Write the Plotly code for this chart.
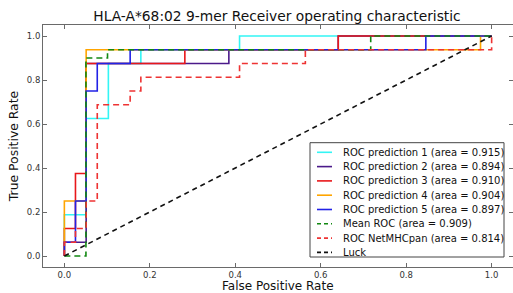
import plotly.graph_objects as go

# ---- data ----
names = [
    "ROC prediction 1 (area = 0.915)",
    "ROC prediction 2 (area = 0.894)",
    "ROC prediction 3 (area = 0.910)",
    "ROC prediction 4 (area = 0.904)",
    "ROC prediction 5 (area = 0.897)",
    "Mean ROC (area = 0.909)",
    "ROC NetMHCpan (area = 0.814)",
    "Luck",
]

fpr1 = [0, 0, 0.051, 0.051, 0.103, 0.103, 0.179, 0.179, 0.410, 0.410, 1.0]
tpr1 = [0, 0.1875, 0.1875, 0.625, 0.625, 0.875, 0.875, 0.9375, 0.9375, 1.0, 1.0]

fpr2 = [0, 0, 0.051, 0.051, 0.385, 0.385, 0.641, 0.641, 1.0]
tpr2 = [0, 0.0625, 0.0625, 0.875, 0.875, 0.9375, 0.9375, 1.0, 1.0]

fpr3 = [0, 0, 0.026, 0.026, 0.051, 0.051, 0.282, 0.282, 0.641, 0.641, 1.0]
tpr3 = [0, 0.125, 0.125, 0.375, 0.375, 0.875, 0.875, 0.9375, 0.9375, 1.0, 1.0]

fpr4 = [0, 0, 0.051, 0.051, 0.974, 0.974, 1.0]
tpr4 = [0, 0.25, 0.25, 0.9375, 0.9375, 1.0, 1.0]

fpr5 = [0, 0, 0.026, 0.026, 0.051, 0.051, 0.077, 0.077, 0.154, 0.154, 0.846, 0.846, 1.0]
tpr5 = [0, 0.0625, 0.0625, 0.25, 0.25, 0.75, 0.75, 0.875, 0.875, 0.9375, 0.9375, 1.0, 1.0]

fpr_mean = [0, 0.0505, 0.0505, 0.101, 0.101, 0.717, 0.717, 1.0]
tpr_mean = [0, 0, 0.90, 0.90, 0.9375, 0.9375, 1.0, 1.0]

fpr_net = [0, 0, 0.026, 0.026, 0.051, 0.051, 0.077, 0.077, 0.154, 0.154, 0.179, 0.179,
           0.410, 0.410, 0.564, 0.564, 1.0, 1.0]
tpr_net = [0, 0.0625, 0.0625, 0.125, 0.125, 0.25, 0.25, 0.6875, 0.6875, 0.75, 0.75, 0.8125,
           0.8125, 0.875, 0.875, 0.9375, 0.9375, 1.0]

fpr_luck = [0, 1]
tpr_luck = [0, 1]

x_ticks = [0.0, 0.2, 0.4, 0.6, 0.8, 1.0]
y_ticks = [0.0, 0.2, 0.4, 0.6, 0.8, 1.0]
tick_text = ["0.0", "0.2", "0.4", "0.6", "0.8", "1.0"]
x_title = "False Positive Rate"
y_title = "True Positive Rate"

# ---- styles ----
colors = ["#33f5f5", "#4b1a8a", "#e8171a", "#ffa500", "#2222e6", "#118811", "#ee3333", "#111111"]
dashes = ["solid", "solid", "solid", "solid", "solid", "6px,4px", "6px,4px", "5px,4px"]

series = [(fpr1, tpr1), (fpr2, tpr2), (fpr3, tpr3), (fpr4, tpr4), (fpr5, tpr5),
          (fpr_mean, tpr_mean), (fpr_net, tpr_net), (fpr_luck, tpr_luck)]

FONT = "DejaVu Sans"
fig = go.Figure()
for (xs, ys), nm, c, d in zip(series, names, colors, dashes):
    fig.add_trace(go.Scatter(x=xs, y=ys, mode="lines", name=nm,
                             line=dict(color=c, width=1.6, dash=d), showlegend=False))

W, H = 513, 293
L, R, T, B = 43, 0, 25, 26
pw, ph = W - L - R, H - T - B

def px2x(p):
    return (p - L) / pw

def px2y(p):
    return (H - B - p) / ph

axis_common = dict(
    showgrid=False, zeroline=False, showline=True, linecolor="#6a6a6a", linewidth=1,
    mirror="allticks", ticks="inside", ticklen=4, tickcolor="#6a6a6a",
    tickfont=dict(family=FONT, size=8.5, color="#333333"),
    automargin=True,
)

fig.update_layout(
    width=W, height=H,
    margin=dict(l=L, r=R, t=T, b=B, autoexpand=False),
    plot_bgcolor="white", paper_bgcolor="white",
    title=dict(text="HLA-A*68:02 9-mer Receiver operating characteristic",
               x=277 / W, xanchor="center",
               y=1 - 16 / H, yanchor="middle",
               font=dict(family=FONT, size=13.8, color="#111111")),
    xaxis=dict(range=[-0.05, 1.05], tickvals=x_ticks, ticktext=tick_text, **axis_common),
    yaxis=dict(range=[-0.05, 1.05], tickvals=y_ticks, ticktext=tick_text,
               title=dict(text=y_title, font=dict(family=FONT, size=12.4, color="#111111"),
                          standoff=5),
               **axis_common),
    showlegend=False,
)

# x-axis title placed just below the tick labels
fig.add_annotation(text=x_title, xref="paper", yref="paper", x=0.5, y=px2y(285.6),
                   xanchor="center", yanchor="middle", showarrow=False, borderpad=0,
                   font=dict(family=FONT, size=12, color="#111111"))

# ---- manual legend (box, samples, labels) ----
box_l, box_r, box_t, box_b = 310, 504, 142.7, 257
fig.add_shape(type="rect", xref="paper", yref="paper",
              x0=px2x(box_l), x1=px2x(box_r), y0=px2y(box_b), y1=px2y(box_t),
              line=dict(color="#444444", width=1), fillcolor="white", layer="above")
row0, dy = 152.3, 14.3
for i, (nm, c, d) in enumerate(zip(names, colors, dashes)):
    yp = px2y(row0 + dy * i)
    fig.add_shape(type="line", xref="paper", yref="paper",
                  x0=px2x(317), x1=px2x(332), y0=yp, y1=yp,
                  line=dict(color=c, width=1.6, dash="4px,3px" if d != "solid" else "solid"),
                  layer="above")
    fig.add_annotation(text=nm, xref="paper", yref="paper", x=px2x(341), y=yp,
                       xanchor="left", yanchor="middle", showarrow=False,
                       font=dict(family=FONT, size=10, color="#111111"))

fig.write_html("out.html", config={"displayModeBar": False},
               post_script="document.body.style.margin='0px';document.body.style.overflow='hidden';")
